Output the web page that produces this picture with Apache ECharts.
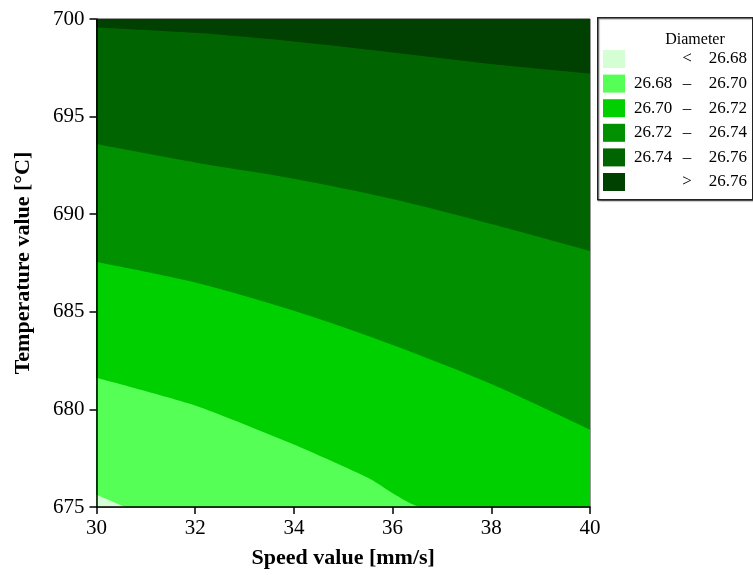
<!DOCTYPE html>
<html>
<head>
<meta charset="utf-8">
<script src="https://cdn.jsdelivr.net/npm/echarts@6/dist/echarts.min.js"></script>
<style>
  html, body { margin: 0; padding: 0; background: #fff; }
  #chart { width: 753px; height: 575px; }
</style>
</head>
<body>
<div id="chart"></div>
<script>
// speed positions where the contour boundaries were read
var speedTicks = [30, 32, 34, 36, 38, 40];
// temperature of each contour boundary at those speeds
var bound2676 = [699.57, 699.29, 698.85, 698.29, 697.70, 697.21];
var bound2674 = [693.59, 692.65, 691.82, 690.78, 689.50, 688.12];
var bound2672 = [687.55, 686.50, 685.05, 683.30, 681.30, 678.96];
// lower boundaries run out of the plot at the bottom edge
var bound2670 = [[30, 681.62], [32, 680.20], [34, 678.20], [35.5, 676.50], [36.6, 675], [40, 675]];
var bound2668 = [[30, 675.63], [30.58, 675], [40, 675]];

var levelNames = ['< 26.68', '26.68 – 26.70', '26.70 – 26.72', '26.72 – 26.74', '26.74 – 26.76', '> 26.76'];
var levelColors = ['#d4ffd4', '#55ff55', '#00d000', '#009000', '#006400', '#004000'];
var xTicks = [30, 32, 34, 36, 38, 40];
var yTicks = [675, 680, 685, 690, 695, 700];

function pairs(ys) {
    return speedTicks.map(function (s, i) { return [s, ys[i]]; });
}

var chart = echarts.init(document.getElementById('chart'));

function band(name, color, data, smooth) {
    return {
        name: name,
        type: 'line',
        data: data,
        smooth: smooth,
        symbol: 'none',
        lineStyle: { width: 0 },
        itemStyle: { color: color },
        areaStyle: { color: color, opacity: 1, origin: 'start' },
        silent: true,
        clip: true
    };
}

function legendText(name) {
    var parts;
    if (name.charAt(0) === '<' || name.charAt(0) === '>') {
        parts = ['', name.charAt(0), name.slice(2)];
    } else {
        parts = name.split(' ');
    }
    return '{a|' + parts[0] + '}{b|' + parts[1] + '}{c|' + parts[2] + '}';
}

var option = {
    animation: false,
    backgroundColor: '#fff',
    textStyle: { fontFamily: 'Liberation Serif' },
    grid: {
        left: 96.5,
        right: 163,
        top: 19,
        bottom: 68,
        show: true,
        borderColor: '#333',
        borderWidth: 1
    },
    title: {
        text: 'Diameter',
        left: 690,
        top: 27,
        textAlign: 'center',
        textStyle: { fontFamily: 'Liberation Serif', fontWeight: 'normal', fontSize: 16, color: '#000' }
    },
    graphic: [{
        type: 'rect',
        left: 597,
        top: 17,
        shape: { width: 155, height: 182 },
        style: { fill: '#fff', stroke: '#222', lineWidth: 1.5, shadowColor: 'rgba(0,0,0,0.35)', shadowOffsetX: 1, shadowOffsetY: 1, shadowBlur: 1 },
        z: -1
    }],
    legend: {
        orient: 'vertical',
        left: 603,
        top: 50,
        padding: 0,
        itemWidth: 22,
        itemHeight: 18,
        itemGap: 6.6,
        selectedMode: false,
        icon: 'rect',
        data: levelNames,
        formatter: legendText,
        textStyle: {
            fontFamily: 'Liberation Serif',
            fontSize: 17,
            color: '#000',
            rich: {
                a: { width: 46, align: 'right', fontSize: 17, fontFamily: 'Liberation Serif' },
                b: { width: 22, align: 'center', fontSize: 17, fontFamily: 'Liberation Serif' },
                c: { width: 49, align: 'right', fontSize: 17, fontFamily: 'Liberation Serif' }
            }
        }
    },
    xAxis: {
        type: 'value',
        min: xTicks[0],
        max: xTicks[xTicks.length - 1],
        interval: 2,
        name: 'Speed value [mm/s]',
        nameLocation: 'middle',
        nameGap: 40,
        nameTextStyle: { fontFamily: 'Liberation Serif', fontWeight: 'bold', fontSize: 22, color: '#000' },
        axisLine: { lineStyle: { color: '#000', width: 1.5 } },
        axisTick: { inside: false, length: 7, lineStyle: { color: '#000', width: 1.5 } },
        axisLabel: { fontFamily: 'Liberation Serif', fontSize: 21, color: '#000', margin: 11 },
        splitLine: { show: false },
        z: 10
    },
    yAxis: {
        type: 'value',
        min: yTicks[0],
        max: yTicks[yTicks.length - 1],
        interval: 5,
        name: 'Temperature value [°C]',
        nameLocation: 'middle',
        nameGap: 62,
        nameTextStyle: { fontFamily: 'Liberation Serif', fontWeight: 'bold', fontSize: 22, color: '#000' },
        axisLine: { lineStyle: { color: '#000', width: 1.5 } },
        axisTick: { inside: false, length: 7, lineStyle: { color: '#000', width: 1.5 } },
        axisLabel: { fontFamily: 'Liberation Serif', fontSize: 21, color: '#000', margin: 12 },
        splitLine: { show: false },
        z: 10
    },
    series: [
        band(levelNames[5], levelColors[5], [[xTicks[0], yTicks[5]], [xTicks[5], yTicks[5]]], false),
        band(levelNames[4], levelColors[4], pairs(bound2676), 0.3),
        band(levelNames[3], levelColors[3], pairs(bound2674), 0.3),
        band(levelNames[2], levelColors[2], pairs(bound2672), 0.3),
        band(levelNames[1], levelColors[1], bound2670, 0.2),
        band(levelNames[0], levelColors[0], bound2668, false)
    ]
};

chart.setOption(option);
</script>
</body>
</html>
